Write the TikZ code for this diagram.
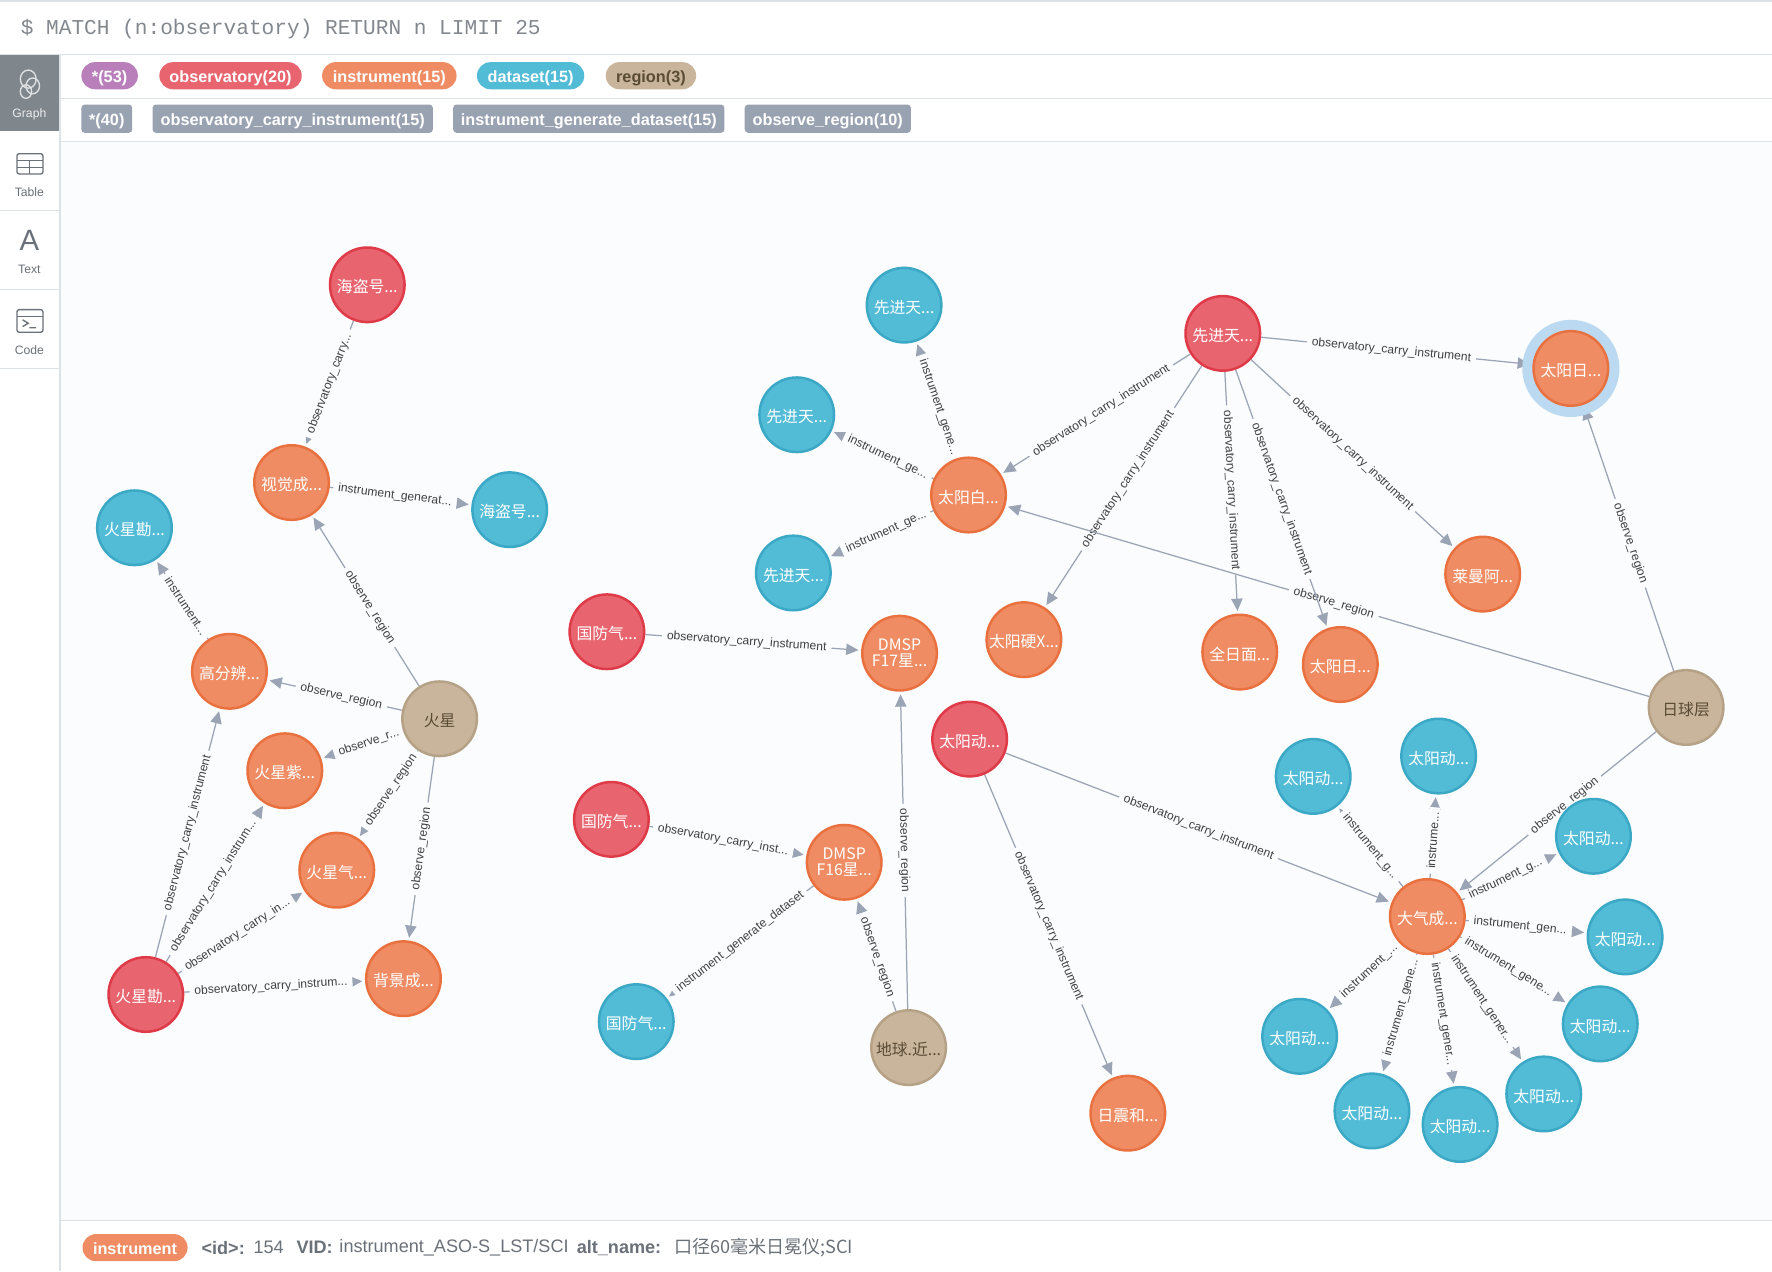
\documentclass[tikz,border=0pt]{standalone}
\usepackage{fontspec}
\setmainfont{Liberation Sans}
\setmonofont{Liberation Mono}
\newfontfamily\cjk{Noto Sans CJK SC}
\usetikzlibrary{arrows.meta,backgrounds}
\pgfdeclarelayer{panel}
\pgfdeclarelayer{edges}
\pgfsetlayers{panel,edges,main}
\definecolor{bgc}{HTML}{FBFCFE}
\definecolor{linec}{HTML}{DDE2E7}
\definecolor{redf}{HTML}{E8656F}\definecolor{redb}{HTML}{DE3A48}
\definecolor{orgf}{HTML}{F08C63}\definecolor{orgb}{HTML}{E9713F}
\definecolor{bluf}{HTML}{52BCD7}\definecolor{blub}{HTML}{3BA8C6}
\definecolor{tanf}{HTML}{C9B59C}\definecolor{tanb}{HTML}{B5A286}
\definecolor{tant}{HTML}{5A4B35}
\definecolor{purf}{HTML}{B87FBA}
\definecolor{edgec}{HTML}{9AA4B4}
\definecolor{relc}{HTML}{98A2B0}
\definecolor{halo}{HTML}{BBDAF2}
\definecolor{sidec}{HTML}{7F868C}
\definecolor{greyt}{HTML}{6B7178}
\definecolor{queryt}{HTML}{83888E}
\tikzset{
  gnode/.style={circle,minimum size=33pt,inner sep=0pt,line width=1.1pt,text=white,align=center,font=\cjk\fontsize{7}{7}\selectfont,execute at begin node={\rule{0pt}{7.8pt}}},
  obs/.style={gnode,fill=redf,draw=redb},
  ins/.style={gnode,fill=orgf,draw=orgb},
  dat/.style={gnode,fill=bluf,draw=blub},
  reg/.style={gnode,fill=tanf,draw=tanb,text=tant},
  edge/.style={draw=edgec,line width=0.55pt,shorten >=1.2pt,-{Triangle[length=5.4pt,width=5pt,fill=edgec]}},
  elab/.style={sloped,fill=bgc,inner xsep=2.2pt,inner ysep=0.5pt,text=black!75,font=\fontsize{5.35}{6}\selectfont},
  pill/.style={rounded corners=6pt,minimum height=12pt,inner sep=0pt,text=white,text height=6.5pt,text depth=0.8pt,font=\bfseries\fontsize{7.2}{8}\selectfont},
  rel/.style={rounded corners=1.5pt,fill=relc,minimum height=12.5pt,inner sep=0pt,text=white,text height=6.5pt,text depth=0.8pt,font=\bfseries\fontsize{7.2}{8}\selectfont},
  sidelab/.style={text=greyt,font=\fontsize{5.4}{6}\selectfont,inner sep=0pt},
  divline/.style={draw=linec,line width=0.6pt},
  infob/.style={anchor=west,inner sep=0pt,text=greyt,font=\bfseries\fontsize{8}{9}\selectfont},
  infot/.style={anchor=west,inner sep=0pt,text=greyt,font=\fontsize{8}{9}\selectfont},
  icon/.style={draw=greyt,line width=0.6pt},
}
\begin{document}
\begin{tikzpicture}[x=0.5pt,y=-0.5pt]
\useasboundingbox (0,0) rectangle (1568,1125);

\begin{pgfonlayer}{panel}
  \fill[bgc] (0,0) rectangle (1568,1125);
  \fill[white] (0,0) rectangle (1568,48);
  \fill[white] (53,48) rectangle (1568,125);
  \fill[white] (53,1080) rectangle (1568,1125);
  \fill[white] (0,48) rectangle (53,1125);
  \fill[sidec] (0,49) rectangle (53,116);
  \draw[divline] (0,0.8) -- (1568,0.8);
  \draw[divline] (0,48) -- (1568,48);
  \draw[divline] (53,87) -- (1568,87);
  \draw[divline] (53,125) -- (1568,125);
  \draw[divline] (53,1080) -- (1568,1080);
  \draw[divline] (53,48) -- (53,1125);
  \draw[divline] (0,186) -- (53,186);
  \draw[divline] (0,256) -- (53,256);
  \draw[divline] (0,326) -- (53,326);
\end{pgfonlayer}

% query line
\node[anchor=west,inner sep=0pt,text=queryt,font=\ttfamily\fontsize{9.35}{10}\selectfont] (query) at (18,26) {\$ MATCH (n:observatory) RETURN n LIMIT 25};

% sidebar icons
\begin{scope}[draw=white!75!sidec,line width=0.6pt]
  \draw (25,70) ellipse (7 and 8);
  \draw (29,76) ellipse (6 and 7);
  \draw (23,81) ellipse (5 and 6);
\end{scope}
\node[sidelab,text=white!85!sidec] (sgraph) at (26,101) {Graph};
\draw[icon,rounded corners=1pt] (15,136) rectangle (38,154);
\draw[icon] (15,142) -- (38,142) (15,148) -- (38,148) (26,142) -- (26,154);
\node[sidelab] (stable) at (26,170) {Table};
\node[inner sep=0pt,text=greyt,font=\fontsize{13}{14}\selectfont] (sA) at (26,213) {A};
\node[sidelab] (stext) at (26,238) {Text};
\draw[icon,rounded corners=1pt] (15,274) rectangle (38,294);
\draw[icon] (15,280) -- (38,280);
\draw[icon] (20,283) -- (25,286) -- (20,289) (26,290) -- (32,290);
\node[sidelab] (scode) at (26,310) {Code};

% legend pills
\node[pill,fill=purf,minimum width=25pt] (p0) at (97,67) {*(53)};
\node[pill,fill=redf,minimum width=63pt] (p1) at (204,67) {observatory(20)};
\node[pill,fill=orgf,minimum width=59.5pt] (p2) at (344.5,67) {instrument(15)};
\node[pill,fill=bluf,minimum width=47.5pt] (p3) at (469.5,67) {dataset(15)};
\node[pill,fill=tanf,minimum width=40pt,text=tant] (p4) at (576,67) {region(3)};
\node[rel,minimum width=22.5pt] (r0) at (94.5,105) {*(40)};
\node[rel,minimum width=124pt] (r1) at (259,105) {observatory\_carry\_instrument(15)};
\node[rel,minimum width=120pt] (r2) at (521,105) {instrument\_generate\_dataset(15)};
\node[rel,minimum width=73.5pt] (r3) at (732.5,105) {observe\_region(10)};

% nodes: left cluster
\node[obs] (hdr) at (325,252) {海盗号...};
\node[ins] (sj) at (258,427) {视觉成...};
\node[dat] (hdb) at (451,451) {海盗号...};
\node[dat] (hxb) at (119,467) {火星勘...};
\node[ins] (gf) at (203,594) {高分辨...};
\node[reg] (hx) at (389,636) {火星};
\node[ins] (zw) at (252,682) {火星紫...};
\node[ins] (hq) at (298,770) {火星气...};
\node[ins] (bj) at (357,866) {背景成...};
\node[obs] (hxr) at (129,880) {火星勘...};

% nodes: middle
\node[dat] (xb1) at (800,270) {先进天...};
\node[dat] (xb2) at (705,367) {先进天...};
\node[dat] (xb3) at (702,507) {先进天...};
\node[ins] (tb) at (857,438) {太阳白...};
\node[obs] (xr) at (1082,295) {先进天...};
\node[circle,fill=halo,minimum size=43pt,inner sep=0pt] (hal) at (1390,326) {};
\node[ins] (tr1) at (1390,326) {太阳日...};
\node[ins] (lm) at (1312,508) {莱曼阿...};
\node[ins] (yx) at (906,566) {太阳硬X...};
\node[ins] (qr) at (1097,577) {全日面...};
\node[ins] (tr2) at (1186,588) {太阳日...};
\node[obs] (gf1) at (537,559) {国防气...};
\node[ins] (d17) at (796,578) {DMSP\\F17星...};
\node[obs] (td) at (858,654) {太阳动...};
\node[obs] (gf2) at (541,725) {国防气...};
\node[ins] (d16) at (747,763) {DMSP\\F16星...};
\node[dat] (gfb) at (563,904) {国防气...};
\node[reg] (dq) at (804,927) {地球.近...};
\node[ins] (rz) at (998,985) {日震和...};
\node[reg] (rq) at (1492,626) {日球层};

% nodes: right cluster
\node[ins] (dc) at (1263,811) {大气成...};
\node[dat] (a1) at (1162,687) {太阳动...};
\node[dat] (a2) at (1273,669) {太阳动...};
\node[dat] (a3) at (1410,740) {太阳动...};
\node[dat] (a4) at (1438,829) {太阳动...};
\node[dat] (a5) at (1416,906) {太阳动...};
\node[dat] (a6) at (1366,968) {太阳动...};
\node[dat] (a7) at (1292,995) {太阳动...};
\node[dat] (a8) at (1214,983) {太阳动...};
\node[dat] (a9) at (1150,917) {太阳动...};

% bottom info line
\node[pill,fill=orgf,minimum width=46.5pt] (pi) at (119.5,1104) {instrument};
\node[infob] (i1) at (178,1104) {<id>:};
\node[infot] (i2) at (224,1104) {154};
\node[infob] (i3) at (262,1104) {VID:};
\node[infot] (i4) at (300,1104) {instrument\_ASO-S\_LST/SCI};
\node[infob] (i5) at (510,1104) {alt\_name:};
\node[infot] (i6) at (596,1104) {{\cjk 口径60毫米日冕仪;SCI}};

\begin{pgfonlayer}{edges}
  \draw[edge] (hdr) -- node[elab] {observatory\_carry...} (sj);
  \draw[edge] (sj) -- node[elab,pos=.46] {instrument\_generat...} (hdb);
  \draw[edge] (gf) -- node[elab,pos=.42] {instrument...} (hxb);
  \draw[edge] (hx) -- node[elab,pos=.46] {observe\_region} (sj);
  \draw[edge] (hx) -- node[elab,pos=.45] {observe\_region} (gf);
  \draw[edge] (hx) -- node[elab,pos=.42] {observe\_r...} (zw);
  \draw[edge] (hx) -- node[elab,pos=.45] {observe\_region} (hq);
  \draw[edge] (hx) -- node[elab] {observe\_region} (bj);
  \draw[edge] (hxr) -- node[elab] {observatory\_carry\_instrument} (gf);
  \draw[edge] (hxr) -- node[elab,pos=.48] {observatory\_carry\_instrum...} (zw);
  \draw[edge] (hxr) -- node[elab,pos=.47] {observatory\_carry\_in...} (hq);
  \draw[edge] (hxr) -- node[elab,pos=.48] {observatory\_carry\_instrum...} (bj);

  \draw[edge] (tb) -- node[elab,pos=.44] {instrument\_gene...} (xb1);
  \draw[edge] (tb) -- node[elab,pos=.45] {instrument\_ge...} (xb2);
  \draw[edge] (tb) -- node[elab,pos=.45] {instrument\_ge...} (xb3);
  \draw[edge] (xr) -- node[elab,pos=.47] {observatory\_carry\_instrument} (tb);
  \draw[edge] (xr) -- node[elab,pos=.47] {observatory\_carry\_instrument} (yx);
  \draw[edge] (xr) -- node[elab,pos=.49] {observatory\_carry\_instrument} (qr);
  \draw[edge] (xr) -- node[elab] {observatory\_carry\_instrument} (lm);
  \draw[edge] (xr) -- node[elab,pos=.48] {observatory\_carry\_instrument} (tr1);
  \draw[edge] (rq) -- node[elab,pos=.48] {observe\_region} (tr1);
  \draw[edge] (rq) -- node[elab,pos=.49] {observe\_region} (tb);
  \draw[edge] (xr) -- node[elab] {observatory\_carry\_instrument} (tr2);
  \draw[edge] (gf1) -- node[elab,pos=.47] {observatory\_carry\_instrument} (d17);
  \draw[edge] (gf2) -- node[elab,pos=.47] {observatory\_carry\_inst...} (d16);
  \draw[edge] (d16) -- node[elab] {instrument\_generate\_dataset} (gfb);
  \draw[edge] (dq) -- node[elab,pos=.48] {observe\_region} (d16);
  \draw[edge] (dq) -- node[elab] {observe\_region} (d17);
  \draw[edge] (td) -- node[elab] {observatory\_carry\_instrument} (dc);
  \draw[edge] (td) -- node[elab] {observatory\_carry\_instrument} (rz);

  \draw[edge] (rq) -- node[elab,pos=.46] {observe\_region} (dc);
  \draw[edge] (dc) -- node[elab] {instrument\_g...} (a1);
  \draw[edge] (dc) -- node[elab,pos=.45] {instrume...} (a2);
  \draw[edge] (dc) -- node[elab,pos=.45] {instrument\_g...} (a3);
  \draw[edge] (dc) -- node[elab,pos=.45] {instrument\_gen...} (a4);
  \draw[edge] (dc) -- node[elab,pos=.45] {instrument\_gene...} (a5);
  \draw[edge] (dc) -- node[elab,pos=.45] {instrument\_gener...} (a6);
  \draw[edge] (dc) -- node[elab,pos=.45] {instrument\_gener...} (a7);
  \draw[edge] (dc) -- node[elab,pos=.45] {instrument\_gene...} (a8);
  \draw[edge] (dc) -- node[elab,pos=.42] {instrument\_...} (a9);
\end{pgfonlayer}
\end{tikzpicture}
\end{document}
